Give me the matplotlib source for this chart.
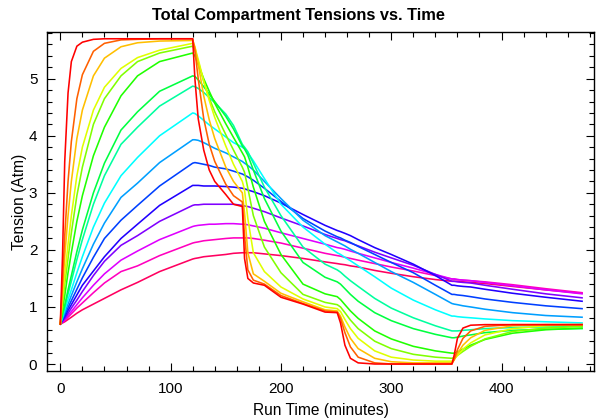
"""Total compartment tensions over a dive profile, one line per tissue compartment."""

import colorsys

import matplotlib

matplotlib.use("Agg")
import matplotlib.pyplot as plt
from matplotlib.ticker import MultipleLocator

run_time = [0, 2, 4, 7, 10, 15, 20, 30, 40, 55, 70, 90, 120,
            122, 125, 130, 135, 140, 150, 157, 165, 167, 170, 175, 185, 200, 220, 240, 251,
            254, 258, 263, 270, 285, 300, 320, 340, 355,
            357, 360, 365, 372, 385, 410, 440, 473]

c01 = [0.70, 1.90, 3.55, 4.75, 5.30, 5.57, 5.64, 5.69, 5.70, 5.70, 5.70, 5.70, 5.70,
       5.00, 4.30, 3.75, 3.40, 3.20, 2.97, 2.80, 2.76, 1.85, 1.50, 1.42, 1.38, 1.17, 1.05, 0.91, 0.90,
       0.72, 0.33, 0.10, 0.02, 0.00, 0.00, 0.00, 0.00, 0.00,
       0.15, 0.45, 0.63, 0.68, 0.69, 0.69, 0.69, 0.69]
c02 = [0.70, 1.45, 2.25, 3.20, 3.90, 4.65, 5.07, 5.48, 5.62, 5.68, 5.69, 5.70, 5.70,
       5.50, 5.00, 4.30, 3.85, 3.55, 3.15, 2.95, 2.84, 2.25, 1.65, 1.47, 1.40, 1.20, 1.06, 0.93, 0.91,
       0.80, 0.55, 0.30, 0.12, 0.02, 0.00, 0.00, 0.00, 0.00,
       0.08, 0.25, 0.45, 0.58, 0.66, 0.69, 0.69, 0.69]
c03 = [0.70, 1.30, 1.88, 2.60, 3.20, 3.95, 4.45, 5.05, 5.36, 5.56, 5.63, 5.66, 5.67,
       5.56, 5.25, 4.70, 4.28, 3.95, 3.45, 3.20, 3.00, 2.65, 1.95, 1.58, 1.45, 1.24, 1.09, 0.95, 0.93,
       0.84, 0.65, 0.45, 0.27, 0.10, 0.04, 0.02, 0.02, 0.02,
       0.07, 0.18, 0.33, 0.46, 0.59, 0.67, 0.69, 0.69]
c04 = [0.70, 1.15, 1.55, 2.10, 2.60, 3.30, 3.80, 4.45, 4.85, 5.18, 5.37, 5.50, 5.62,
       5.55, 5.34, 4.96, 4.62, 4.32, 3.82, 3.50, 3.20, 3.05, 2.55, 1.95, 1.62, 1.35, 1.14, 1.00, 0.97,
       0.92, 0.78, 0.62, 0.45, 0.23, 0.12, 0.07, 0.05, 0.05,
       0.08, 0.15, 0.26, 0.37, 0.51, 0.62, 0.67, 0.69]
c05 = [0.70, 1.05, 1.40, 1.85, 2.30, 2.95, 3.45, 4.20, 4.65, 5.05, 5.30, 5.45, 5.57,
       5.50, 5.30, 4.95, 4.66, 4.42, 4.02, 3.75, 3.45, 3.36, 3.08, 2.60, 2.05, 1.60, 1.22, 1.08, 1.04,
       1.00, 0.90, 0.77, 0.62, 0.40, 0.27, 0.17, 0.12, 0.10,
       0.11, 0.15, 0.22, 0.31, 0.44, 0.57, 0.63, 0.66]
c06 = [0.70, 0.95, 1.20, 1.60, 1.95, 2.50, 2.95, 3.65, 4.15, 4.70, 5.05, 5.30, 5.45,
       5.40, 5.25, 5.00, 4.78, 4.57, 4.21, 3.97, 3.70, 3.63, 3.45, 3.10, 2.50, 1.92, 1.40, 1.23, 1.18,
       1.13, 1.04, 0.93, 0.80, 0.58, 0.44, 0.31, 0.23, 0.19,
       0.19, 0.21, 0.26, 0.33, 0.43, 0.54, 0.60, 0.63]
c07 = [0.70, 0.87, 1.03, 1.30, 1.55, 1.97, 2.35, 3.00, 3.52, 4.10, 4.42, 4.78, 5.05,
       5.04, 4.98, 4.86, 4.73, 4.60, 4.34, 4.12, 3.82, 3.77, 3.66, 3.40, 2.90, 2.33, 1.78, 1.52, 1.44,
       1.40, 1.32, 1.22, 1.10, 0.90, 0.76, 0.62, 0.52, 0.46,
       0.46, 0.47, 0.49, 0.51, 0.55, 0.59, 0.61, 0.62]
c08 = [0.70, 0.85, 1.00, 1.23, 1.45, 1.83, 2.18, 2.80, 3.30, 3.85, 4.15, 4.52, 4.87,
       4.86, 4.83, 4.76, 4.67, 4.58, 4.38, 4.18, 3.85, 3.80, 3.72, 3.52, 3.10, 2.60, 2.05, 1.75, 1.65,
       1.61, 1.54, 1.46, 1.36, 1.15, 0.98, 0.81, 0.67, 0.58,
       0.58, 0.58, 0.59, 0.60, 0.62, 0.64, 0.65, 0.66]
c09 = [0.70, 0.83, 0.95, 1.13, 1.30, 1.60, 1.88, 2.40, 2.82, 3.30, 3.62, 4.00, 4.40,
       4.39, 4.35, 4.27, 4.19, 4.12, 3.98, 3.88, 3.80, 3.77, 3.70, 3.56, 3.25, 2.80, 2.40, 2.10, 1.95,
       1.92, 1.87, 1.81, 1.72, 1.53, 1.33, 1.12, 0.95, 0.84,
       0.84, 0.83, 0.82, 0.81, 0.79, 0.76, 0.74, 0.72]
c10 = [0.70, 0.80, 0.90, 1.05, 1.20, 1.44, 1.67, 2.10, 2.47, 2.92, 3.17, 3.53, 3.93,
       3.93, 3.92, 3.88, 3.83, 3.78, 3.70, 3.63, 3.55, 3.52, 3.48, 3.40, 3.20, 2.90, 2.52, 2.25, 2.14,
       2.11, 2.07, 2.01, 1.94, 1.78, 1.62, 1.43, 1.22, 1.06,
       1.05, 1.04, 1.02, 1.00, 0.96, 0.90, 0.85, 0.82]
c11 = [0.70, 0.78, 0.86, 0.99, 1.11, 1.31, 1.51, 1.87, 2.20, 2.52, 2.78, 3.12, 3.52,
       3.53, 3.52, 3.50, 3.48, 3.45, 3.42, 3.38, 3.33, 3.31, 3.28, 3.22, 3.08, 2.85, 2.55, 2.33, 2.23,
       2.21, 2.17, 2.13, 2.06, 1.92, 1.78, 1.60, 1.38, 1.22,
       1.22, 1.21, 1.20, 1.18, 1.14, 1.08, 1.02, 0.97]
c12 = [0.70, 0.77, 0.83, 0.94, 1.04, 1.21, 1.38, 1.63, 1.88, 2.20, 2.45, 2.78, 3.13,
       3.13, 3.13, 3.12, 3.12, 3.12, 3.11, 3.10, 3.08, 3.07, 3.05, 3.02, 2.95, 2.82, 2.62, 2.43, 2.34,
       2.32, 2.29, 2.25, 2.18, 2.04, 1.92, 1.75, 1.55, 1.38,
       1.38, 1.37, 1.36, 1.35, 1.31, 1.24, 1.17, 1.10]
c13 = [0.70, 0.75, 0.80, 0.89, 0.98, 1.12, 1.27, 1.55, 1.80, 2.08, 2.25, 2.50, 2.78,
       2.79, 2.79, 2.80, 2.80, 2.80, 2.80, 2.80, 2.78, 2.77, 2.76, 2.73, 2.67, 2.56, 2.42, 2.27, 2.20,
       2.18, 2.16, 2.12, 2.07, 1.96, 1.86, 1.73, 1.57, 1.45,
       1.45, 1.44, 1.43, 1.42, 1.38, 1.31, 1.23, 1.16]
c14 = [0.70, 0.74, 0.78, 0.85, 0.92, 1.04, 1.16, 1.38, 1.58, 1.82, 1.98, 2.18, 2.41,
       2.42, 2.43, 2.44, 2.45, 2.45, 2.46, 2.46, 2.45, 2.45, 2.44, 2.42, 2.38, 2.30, 2.20, 2.10, 2.04,
       2.03, 2.01, 1.98, 1.94, 1.86, 1.78, 1.68, 1.57, 1.49,
       1.49, 1.48, 1.47, 1.46, 1.43, 1.37, 1.30, 1.23]
c15 = [0.70, 0.73, 0.76, 0.82, 0.88, 0.98, 1.07, 1.25, 1.42, 1.62, 1.72, 1.90, 2.12,
       2.13, 2.14, 2.16, 2.17, 2.18, 2.20, 2.21, 2.21, 2.21, 2.21, 2.20, 2.17, 2.12, 2.03, 1.94, 1.90,
       1.89, 1.87, 1.85, 1.82, 1.76, 1.70, 1.63, 1.55, 1.49,
       1.49, 1.48, 1.47, 1.46, 1.44, 1.39, 1.32, 1.25]
c16 = [0.70, 0.72, 0.74, 0.78, 0.82, 0.89, 0.95, 1.05, 1.15, 1.30, 1.43, 1.62, 1.84,
       1.85, 1.86, 1.88, 1.89, 1.90, 1.92, 1.94, 1.95, 1.95, 1.95, 1.95, 1.93, 1.90, 1.85, 1.79, 1.76,
       1.75, 1.74, 1.72, 1.70, 1.64, 1.59, 1.53, 1.48, 1.45,
       1.45, 1.45, 1.44, 1.43, 1.41, 1.36, 1.30, 1.24]

compartments = [c01, c02, c03, c04, c05, c06, c07, c08,
                c09, c10, c11, c12, c13, c14, c15, c16]

plt.rcParams["font.family"] = ["Liberation Sans", "DejaVu Sans"]

fig = plt.figure(figsize=(5.96, 4.20), dpi=100)
ax = fig.add_axes([0.079, 0.117, 0.918, 0.807])

n = len(compartments)
# fastest compartment drawn last so it sits on top
for i in reversed(range(n)):
    color = colorsys.hsv_to_rgb(i / n, 1.0, 1.0)
    ax.plot(run_time, compartments[i], color=color, linewidth=1.15)

ax.set_xlim(-12, 484)
ax.set_ylim(-0.12, 5.82)
ax.xaxis.set_major_locator(MultipleLocator(100))
ax.xaxis.set_minor_locator(MultipleLocator(20))
ax.yaxis.set_major_locator(MultipleLocator(1))
ax.yaxis.set_minor_locator(MultipleLocator(0.2))
ax.tick_params(which="both", direction="in", top=True, right=True,
               labeltop=False, labelright=False, labelsize=11, width=0.8)
ax.tick_params(which="major", length=6)
ax.tick_params(which="minor", length=3.5)
ax.tick_params(axis="x", which="major", pad=8)
ax.tick_params(axis="y", which="major", pad=7)
for spine in ax.spines.values():
    spine.set_linewidth(1.0)

# title is centred on the whole figure, not on the axes
fig.text(0.5, 0.963, "Total Compartment Tensions vs. Time", fontsize=11.8,
         fontweight="bold", ha="center", va="center")
ax.set_xlabel("Run Time (minutes)", fontsize=11.2, labelpad=5)
ax.set_ylabel("Tension (Atm)", fontsize=11.2, labelpad=1)

fig.savefig("out.png", dpi=100)
